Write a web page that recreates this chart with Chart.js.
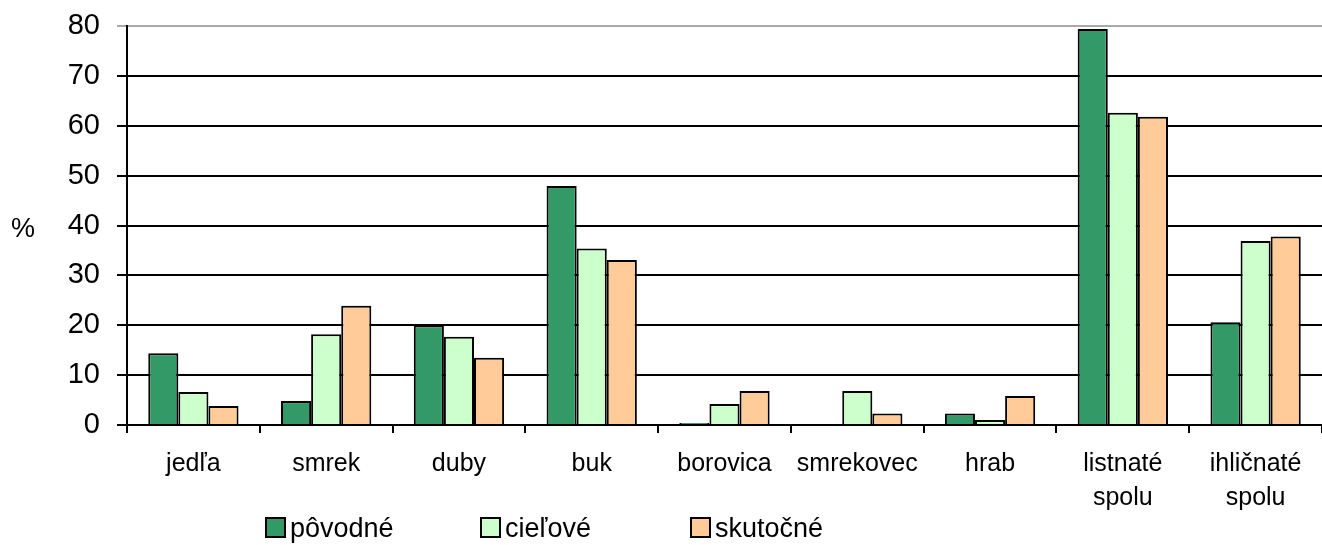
<!DOCTYPE html>
<html>
<head>
<meta charset="utf-8">
<script src="https://cdn.jsdelivr.net/npm/chart.js@4.4.1/dist/chart.umd.min.js"></script>
<style>
  body { margin: 0; background: #fff; }
  #wrap { position: relative; width: 1322px; height: 545px; }
  #legend { position: absolute; left: 0; top: 513px; font-family: 'Liberation Sans', Arial, sans-serif; font-size: 27px; color: #000; }
  .item { position: absolute; white-space: nowrap; top: 0; }
  .box { display: inline-block; width: 17px; height: 17px; border: 2px solid #000; vertical-align: -1px; margin-right: 4px; }
</style>
</head>
<body>
<div id="wrap">
  <canvas id="chart" width="1322" height="545"></canvas>
  <div id="legend"></div>
</div>
<script>
// categories (multi-line labels as arrays)
const categories = ["jedľa", "smrek", "duby", "buk", "borovica", "smrekovec", "hrab", ["listnaté", "spolu"], ["ihličnaté", "spolu"]];
const seriesNames = ["pôvodné", "cieľové", "skutočné"];
const povodne  = [14.4, 4.8, 20.0, 47.9, 0.4, 0, 2.3, 79.4, 20.6];
const cielove  = [6.6, 18.2, 17.7, 35.4, 4.2, 6.8, 1.0, 62.6, 36.9];
const skutocne = [3.8, 23.9, 13.5, 33.1, 6.8, 2.3, 5.8, 61.8, 37.8];
const colors = ["#339966", "#CCFFCC", "#FFCC99"];
const legendX = [265, 480, 690];

const ctx = document.getElementById('chart').getContext('2d');

// "%" label left of the y axis
const percentLabel = {
    id: 'percentLabel',
    afterDraw(chart) {
        const c = chart.ctx;
        const a = chart.chartArea;
        c.save();
        c.font = "27px 'Liberation Sans', Arial, sans-serif";
        c.fillStyle = '#000';
        c.textAlign = 'left';
        c.textBaseline = 'middle';
        c.fillText('%', 11, (a.top + a.bottom) / 2 + 4);
        c.restore();
    }
};

const data = {
    labels: categories,
    datasets: [povodne, cielove, skutocne].map((vals, i) => ({
        label: seriesNames[i],
        data: vals,
        backgroundColor: colors[i],
        borderColor: '#000',
        borderWidth: 2,
        categoryPercentage: 0.68,
        barPercentage: 1.0,
    })),
};

const options = {
    responsive: false,
    animation: false,
    layout: { padding: { top: 26, left: 0, right: 0, bottom: 0 } },
    plugins: {
        legend: { display: false },
        tooltip: { enabled: false },
    },
    scales: {
        x: {
            grid: {
                offset: true,
                drawOnChartArea: false,
                tickLength: 8,
                color: '#000',
                lineWidth: 2,
            },
            border: { display: false },
            ticks: {
                color: '#000',
                font: { family: "'Liberation Sans', Arial, sans-serif", size: 25, lineHeight: 1.36 },
                padding: 14,
                maxRotation: 0,
                autoSkip: false,
            },
            afterFit: (s) => { s.height = 120; s.paddingRight = 0; s.paddingLeft = 0; },
        },
        y: {
            min: 0,
            max: 80,
            ticks: {
                stepSize: 10,
                color: '#000',
                font: { family: "'Liberation Sans', Arial, sans-serif", size: 29 },
                padding: 17,
            },
            grid: {
                color: (c) => (c.tick && c.tick.value === 80 ? '#aaa' : '#000'),
                lineWidth: 2,
                tickLength: 10,
            },
            border: { color: '#000', width: 2 },
            afterFit: (s) => { s.width = 127; s.paddingTop = 0; s.paddingBottom = 0; },
        },
    },
};

const myChart = new Chart(ctx, {
    type: 'bar',
    data: data,
    options: options,
    plugins: [percentLabel],
});

// legend as html
const legend = document.getElementById('legend');
seriesNames.forEach((name, i) => {
    const el = document.createElement('span');
    el.className = 'item';
    el.style.left = legendX[i] + 'px';
    el.innerHTML = '<span class="box" style="background:' + colors[i] + '"></span>' + name;
    legend.appendChild(el);
});
</script>
</body>
</html>
